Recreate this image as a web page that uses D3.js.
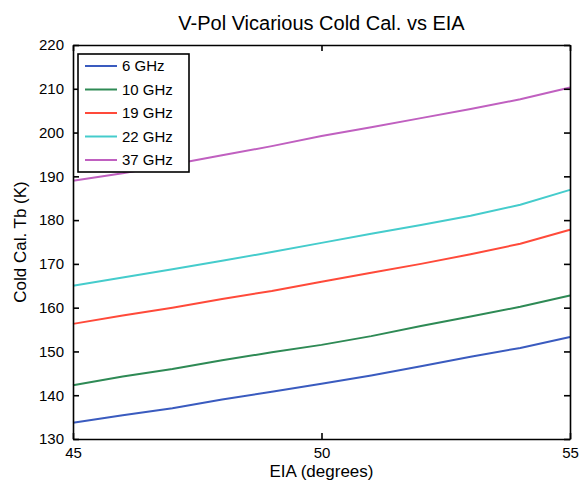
<!DOCTYPE html>
<html>
<head>
<meta charset="utf-8">
<script src="https://cdn.jsdelivr.net/npm/d3@7"></script>
<style>
body{margin:0;background:#fff;}
text{font-family:"Liberation Sans",Arial,sans-serif;fill:#000;}
</style>
</head>
<body>
<script>
// data
var eia = [45,46,47,48,49,50,51,52,53,54,55];
var names = ["6 GHz","10 GHz","19 GHz","22 GHz","37 GHz"];
var tb6  = [133.7,135.4,137.0,139.0,140.8,142.6,144.5,146.6,148.8,150.8,153.3];
var tb10 = [142.3,144.3,146.0,148.0,149.8,151.5,153.5,155.8,158.0,160.2,162.8];
var tb19 = [156.3,158.2,160.0,162.0,163.8,165.9,168.0,170.0,172.2,174.6,177.8];
var tb22 = [165.0,166.9,168.8,170.7,172.7,174.8,176.9,178.9,181.0,183.5,186.9];
var tb37 = [189.0,190.7,192.7,194.8,196.9,199.2,201.2,203.3,205.4,207.6,210.3];
var xTicks = [45,50,55];
var yTicks = [130,140,150,160,170,180,190,200,210,220];

var colors = ["#3a5bbf","#2e8a55","#ff4a3a","#45cccc","#c060c0"];
var series = [tb6,tb10,tb19,tb22,tb37];

var W = 579, H = 483;
var pLeft = 73, pRight = 570, pTop = 45, pBottom = 439;

var svg = d3.select("body").append("svg")
	.attr("width",W)
	.attr("height",H);

var x = d3.scaleLinear().domain([45,55]).range([pLeft,pRight]);
var y = d3.scaleLinear().domain([130,220]).range([pBottom,pTop]);

//画曲线
var line = d3.line()
	.x(function(d,i){ return x(eia[i]); })
	.y(function(d){ return y(d); });
svg.selectAll(".series")
	.data(series)
	.enter()
	.append("path")
	.attr("class","series")
	.attr("d",line)
	.style("fill","none")
	.style("stroke",function(d,i){ return colors[i]; })
	.style("stroke-width",2);

//坐标轴 (ticks inside, box)
var tl = 6;
svg.append("g").attr("transform","translate(0,"+pBottom+")")
	.call(d3.axisBottom(x).tickValues(xTicks).tickSizeInner(-tl).tickSizeOuter(0).tickPadding(8));
svg.append("g").attr("transform","translate(0,"+pTop+")")
	.call(d3.axisTop(x).tickValues(xTicks).tickSizeInner(-tl).tickSizeOuter(0).tickFormat(""));
svg.append("g").attr("transform","translate("+pLeft+",0)")
	.call(d3.axisLeft(y).tickValues(yTicks).tickSizeInner(-tl).tickSizeOuter(0).tickPadding(9));
svg.append("g").attr("transform","translate("+pRight+",0)")
	.call(d3.axisRight(y).tickValues(yTicks).tickSizeInner(-tl).tickSizeOuter(0).tickFormat(""));
svg.selectAll(".domain,.tick line").style("stroke","#000").style("stroke-width",1.6);
svg.selectAll(".tick text")
	.style("font-size","15px")
	.style("font-family","'Liberation Sans',Arial,sans-serif")
	.style("fill","#000");

//标题和轴标签
svg.append("text")
	.attr("x",(pLeft+pRight)/2)
	.attr("y",30)
	.attr("text-anchor","middle")
	.style("font-size","20px")
	.text("V-Pol Vicarious Cold Cal. vs EIA");
svg.append("text")
	.attr("x",(pLeft+pRight)/2)
	.attr("y",477)
	.attr("text-anchor","middle")
	.style("font-size","17px")
	.text("EIA (degrees)");
svg.append("text")
	.attr("transform","translate(26,"+((pTop+pBottom)/2)+") rotate(-90)")
	.attr("text-anchor","middle")
	.style("font-size","17px")
	.text("Cold Cal. Tb (K)");

//图例
var lg = svg.append("g");
lg.append("rect")
	.attr("x",78).attr("y",54)
	.attr("width",111).attr("height",118)
	.style("fill","#fff")
	.style("stroke","#000")
	.style("stroke-width",1.6);
var items = lg.selectAll(".item")
	.data(names)
	.enter()
	.append("g")
	.attr("class","item")
	.attr("transform",function(d,i){ return "translate(0,"+(66+i*23.5)+")"; });
items.append("line")
	.attr("x1",85).attr("x2",117)
	.style("stroke",function(d,i){ return colors[i]; })
	.style("stroke-width",2);
items.append("text")
	.attr("x",122)
	.attr("dy","0.35em")
	.style("font-size","15px")
	.text(function(d){ return d; });
</script>
</body>
</html>
